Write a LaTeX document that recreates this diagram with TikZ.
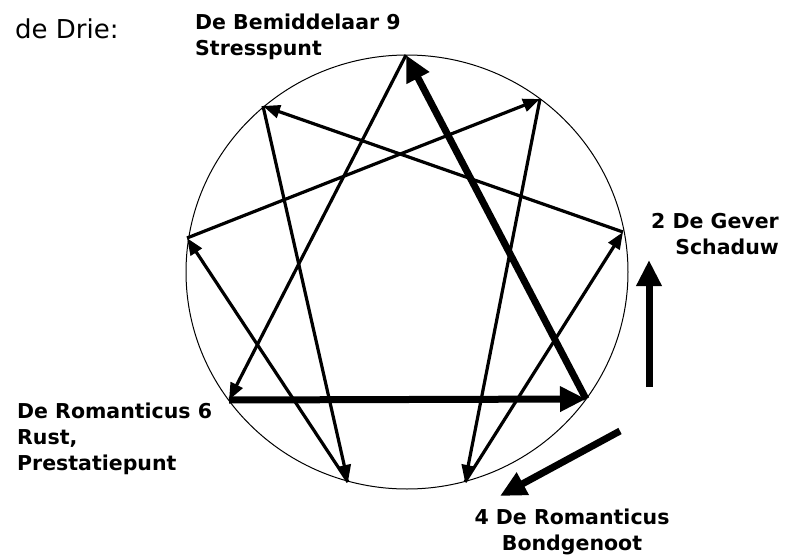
\documentclass[tikz,border=0pt]{standalone}
\usepackage{fontspec}
\setmainfont{DejaVu Sans}
\usetikzlibrary{arrows.meta}
\tikzset{
  thinarrow/.style={line width=3.2pt,-{Triangle[length=17pt,width=13pt]}},
  thickarrow/.style={line width=7pt,-{Triangle[length=26pt,width=24pt]}},
  lbl/.style={inner sep=0pt,font=\bfseries\fontsize{20.5}{26}\selectfont},
}
\begin{document}
\begin{tikzpicture}[x=1pt,y=-1pt]
\useasboundingbox (0,0) rectangle (793,557);
\draw[line width=1pt] (407,272) ellipse [x radius=221, y radius=217];
\coordinate (p9) at (406,55);
\coordinate (p1) at (540,99);
\coordinate (p2) at (623,232);
\coordinate (p3) at (586,399);
\coordinate (p4) at (465,482);
\coordinate (p5) at (348,482);
\coordinate (p6) at (229,400);
\coordinate (p7) at (187,238);
\coordinate (p8) at (263,106);
\draw[thinarrow] (p1) -- (p4);
\draw[thinarrow] (p4) -- (p2);
\draw[thinarrow] (p2) -- (p8);
\draw[thinarrow] (p8) -- (p5);
\draw[thinarrow] (p5) -- (p7);
\draw[thinarrow] (p7) -- (p1);
\draw[thinarrow] (p9) -- (p6);
\draw[thickarrow] (p6) -- (p3);
\draw[thickarrow] (p3) -- (p9);
\coordinate (a1) at (649,387);
\coordinate (a2) at (649,260);
\draw[thickarrow] (a1) -- (a2);
\coordinate (b1) at (620,431);
\coordinate (b2) at (500,496);
\draw[thickarrow] (b1) -- (b2);
\node[inner sep=0pt,anchor=base west,font=\fontsize{26}{30}\selectfont] (drie) at (15,38) {de Drie:};
\node[lbl,anchor=north west,align=left] (l9) at (195,14) {De Bemiddelaar 9\\Stresspunt};
\node[lbl,anchor=north east,align=right] (l2) at (779,213) {2 De Gever\\Schaduw};
\node[lbl,anchor=north west,align=left] (l6) at (17,403) {De Romanticus 6\\Rust,\\Prestatiepunt};
\node[lbl,anchor=north,align=center] (l4) at (572,509) {4 De Romanticus\\Bondgenoot};
\end{tikzpicture}
\end{document}
